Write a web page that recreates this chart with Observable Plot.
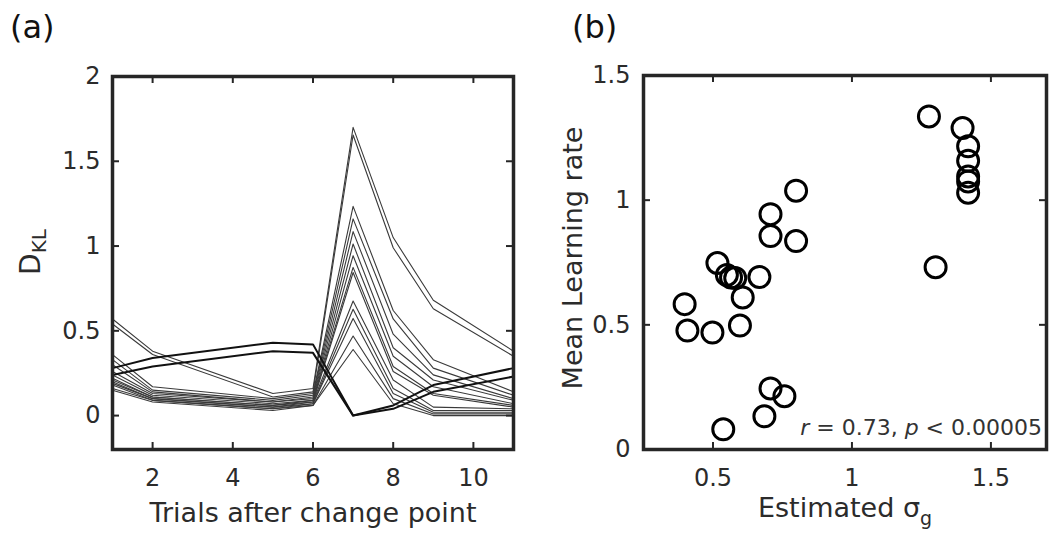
<!DOCTYPE html>
<html>
<head>
<meta charset="utf-8">
<script src="https://cdn.jsdelivr.net/npm/d3@7"></script>
<script src="https://cdn.jsdelivr.net/npm/@observablehq/plot@0.6"></script>
<style>
  html, body { margin: 0; padding: 0; background: #fff; }
  #wrap { position: relative; width: 1054px; height: 535px; background: #fff; font-family: "DejaVu Sans", sans-serif; color: #2b2b2b; overflow: hidden; }
  .abs { position: absolute; white-space: nowrap; }
  .rot { transform: translate(-50%, -50%) rotate(-90deg); }
  .ctr { transform: translate(-50%, -50%); }
</style>
</head>
<body>
<div id="wrap">
  <div id="pa" class="abs" style="left:0;top:0"></div>
  <div id="pb" class="abs" style="left:527px;top:0"></div>
  <div class="abs" style="left:10px;top:8px;font-size:32px;color:#111">(a)</div>
  <div class="abs" style="left:572px;top:8px;font-size:32px;color:#111">(b)</div>
  <div class="abs rot" style="left:32px;top:252px;font-size:28px">D<sub style="font-size:20px;vertical-align:-6px">KL</sub></div>
  <div class="abs rot" style="left:572px;top:258px;font-size:27px">Mean Learning rate</div>
  <div class="abs ctr" style="left:313px;top:512px;font-size:27px">Trials after change point</div>
  <div class="abs ctr" style="left:845px;top:510px;font-size:27px">Estimated σ<sub style="font-size:19px;vertical-align:-8px">g</sub></div>
  <div class="abs" style="right:12px;top:415px;font-size:22px;color:#333"><i>r</i> = 0.73, <i>p</i> &lt; 0.00005</div>
</div>
<script>
// ---------- Panel (a) data ----------
const trials = [1, 2, 5, 6, 7, 8, 9, 11];
const xTicksA = [2, 4, 6, 8, 10];
const yTicksA = [0, 0.5, 1, 1.5, 2];
// thin lines: D_KL values at each trial
const thinSeries = [
  [0.57, 0.38, 0.13, 0.16, 1.70, 1.05, 0.68, 0.38],
  [0.54, 0.36, 0.11, 0.14, 1.655, 0.99, 0.63, 0.35],
  [0.36, 0.17, 0.10, 0.13, 1.234, 0.62, 0.33, 0.14],
  [0.33, 0.15, 0.09, 0.12, 1.16, 0.57, 0.28, 0.12],
  [0.30, 0.14, 0.08, 0.11, 1.085, 0.48, 0.24, 0.10],
  [0.26, 0.13, 0.08, 0.10, 1.012, 0.40, 0.21, 0.09],
  [0.24, 0.12, 0.07, 0.09, 0.943, 0.35, 0.17, 0.07],
  [0.22, 0.11, 0.06, 0.09, 0.874, 0.29, 0.13, 0.06],
  [0.21, 0.11, 0.06, 0.08, 0.844, 0.26, 0.12, 0.05],
  [0.20, 0.10, 0.05, 0.08, 0.676, 0.21, 0.05, 0.04],
  [0.19, 0.10, 0.05, 0.07, 0.627, 0.16, 0.03, 0.03],
  [0.18, 0.09, 0.04, 0.07, 0.573, 0.13, 0.02, 0.02],
  [0.16, 0.09, 0.04, 0.06, 0.469, 0.10, 0.01, 0.01],
  [0.15, 0.08, 0.03, 0.06, 0.39, 0.07, 0.00, 0.00]
];
// thick lines
const thickSeries = [
  [0.28, 0.34, 0.43, 0.42, 0.00, 0.06, 0.18, 0.28],
  [0.24, 0.29, 0.38, 0.37, 0.00, 0.04, 0.14, 0.23]
];

// ---------- Panel (b) data ----------
const xTicksB = [0.5, 1, 1.5];
const yTicksB = [0, 0.5, 1, 1.5];
const sigmaG = [1.277, 1.398, 1.418, 1.418, 1.418, 1.418, 1.418, 1.301, 0.799, 0.707, 0.707, 0.799,
                0.516, 0.55, 0.565, 0.58, 0.667, 0.607, 0.398, 0.408, 0.498, 0.597, 0.707, 0.757, 0.685, 0.537];
const learnRate = [1.336, 1.289, 1.216, 1.158, 1.095, 1.075, 1.030, 0.731, 1.038, 0.944, 0.856, 0.836,
                   0.748, 0.700, 0.690, 0.688, 0.692, 0.610, 0.583, 0.477, 0.469, 0.497, 0.245, 0.214, 0.133, 0.081];

// ---------- build tables ----------
const thinRows = thinSeries.flatMap((s, i) => s.map((v, j) => ({id: i, x: trials[j], y: v})));
const thickRows = thickSeries.flatMap((s, i) => s.map((v, j) => ({id: i, x: trials[j], y: v})));
const pts = sigmaG.map((x, i) => ({x, y: learnRate[i]}));

const FRAME = "#262626";
const fmt = d => String(d);
const style = {fontFamily: "DejaVu Sans, sans-serif", fontSize: "24px", color: "#2b2b2b", background: "transparent"};

function frameTicks(xt, yt, W, H) {
  return [
    Plot.tickX(xt, {x: d => d, insetTop: H - 7, stroke: FRAME, strokeWidth: 2}),
    Plot.tickX(xt, {x: d => d, insetBottom: H - 7, stroke: FRAME, strokeWidth: 2}),
    Plot.tickY(yt, {y: d => d, insetRight: W - 7, stroke: FRAME, strokeWidth: 2}),
    Plot.tickY(yt, {y: d => d, insetLeft: W - 7, stroke: FRAME, strokeWidth: 2})
  ];
}

// Panel (a)
{
  const width = 527, height = 535, mL = 112, mR = 14, mT = 76, mB = 86;
  const W = width - mL - mR, H = height - mT - mB;
  const chart = Plot.plot({
    width, height, marginLeft: mL, marginRight: mR, marginTop: mT, marginBottom: mB,
    style,
    x: {domain: [1, 11]},
    y: {domain: [-0.2, 2]},
    marks: [
      Plot.axisX(xTicksA, {tickSize: 0, tickPadding: 19, label: null, tickFormat: fmt}),
      Plot.axisY(yTicksA, {tickSize: 0, tickPadding: 12, label: null, tickFormat: fmt}),
      Plot.line(thinRows, {x: "x", y: "y", z: "id", stroke: "#3a3a3a", strokeWidth: 1.1}),
      Plot.line(thickRows, {x: "x", y: "y", z: "id", stroke: "#111", strokeWidth: 2}),
      ...frameTicks(xTicksA, yTicksA, W, H),
      Plot.frame({stroke: FRAME, strokeWidth: 3.5})
    ]
  });
  document.getElementById("pa").appendChild(chart);
}

// Panel (b)
{
  const width = 527, height = 535, mL = 116, mR = 8, mT = 75, mB = 86;
  const W = width - mL - mR, H = height - mT - mB;
  const chart = Plot.plot({
    width, height, marginLeft: mL, marginRight: mR, marginTop: mT, marginBottom: mB,
    style,
    x: {domain: [0.25, 1.7]},
    y: {domain: [0, 1.5]},
    marks: [
      Plot.axisX(xTicksB, {tickSize: 0, tickPadding: 19, label: null, tickFormat: fmt}),
      Plot.axisY(yTicksB, {tickSize: 0, tickPadding: 13, label: null, tickFormat: fmt}),
      Plot.dot(pts, {x: "x", y: "y", r: 10.5, stroke: "#000", strokeWidth: 3, fill: "none"}),
      ...frameTicks(xTicksB, yTicksB, W, H),
      Plot.frame({stroke: FRAME, strokeWidth: 3.5})
    ]
  });
  document.getElementById("pb").appendChild(chart);
}
</script>
</body>
</html>
